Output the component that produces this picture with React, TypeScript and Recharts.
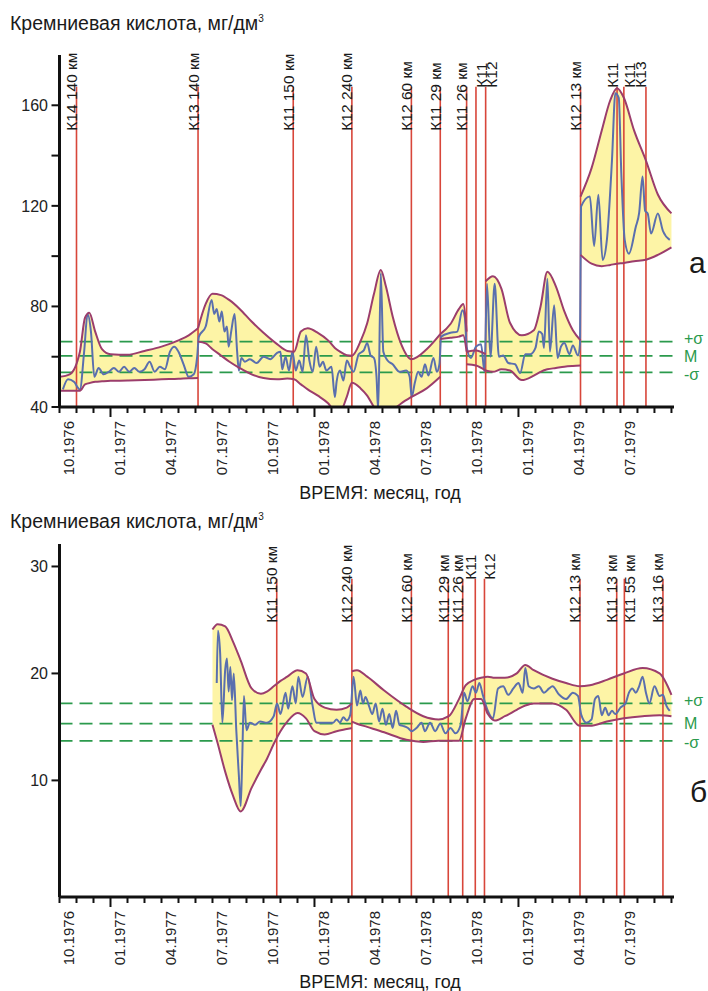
import React from 'react';
import { ComposedChart, Area, Line, XAxis, YAxis, ReferenceLine } from 'recharts';

// months counted from 10.1976; a label every third month
const MONTH_TICKS = Array.from({ length: 37 }, (_, i) => i);
const MONTH_LABELS = [
  '10.1976', '01.1977', '04.1977', '07.1977', '10.1977', '01.1978',
  '04.1978', '07.1978', '10.1978', '01.1979', '04.1979', '07.1979',
];

// ---- panel а ----
const A_Y_TICKS = [40, 60, 80, 100, 120, 140, 160];
const A_Y_LABELS = [40, 80, 120, 160];
const A_STATS = [66, 60.3, 53.8]; // +σ, M, -σ

const A_STATIONS: [number, string][] = [
  [1.0, 'К14 140 км'], [8.15, 'К13 140 км'], [13.75, 'К11 150 км'], [17.2, 'К12 240 км'],
  [20.7, 'К12 60 км'], [22.4, 'К11 29 км'], [23.95, 'К11 26 км'], [24.5, 'К11'],
  [25.07, 'К12'], [30.65, 'К12 13 км'], [32.8, 'К11'], [33.2, 'К11'], [34.5, 'К13'],
];

// envelope pieces: [month, lower, upper]
const A_BAND = [
  [[0, 46.5, 52], [0.6, 46.5, 53], [1.2, 46.5, 62], [1.5, 49, 75.5], [1.75, 49.5, 77.5], [2.1, 50, 70],
   [2.5, 50.2, 63], [3.0, 50.4, 61], [4.0, 50.5, 60.8], [5.0, 50.7, 62.3], [6.0, 51, 64],
   [7.0, 51.2, 66.5], [7.6, 51.4, 68.5], [8.15, 51.5, 71.3]],
  [[8.15, 66, 71.3], [8.6, 65.3, 81], [9.0, 63, 85], [9.5, 60.5, 84.5], [10.0, 58, 82.5],
   [10.6, 55.5, 79], [11.3, 53, 74], [12.0, 51.5, 69.5], [12.8, 51, 65], [13.4, 51.3, 62.3],
   [13.8, 51, 62], [14.2, 49, 70], [14.6, 47, 71.3], [15.2, 44.5, 69.5], [15.8, 41.5, 66.5],
   [16.2, 38.5, 63.5], [16.5, 38.2, 62], [16.9, 44, 60.6], [17.2, 49.6, 60.4], [17.7, 47.5, 66],
   [18.1, 44.5, 73.3], [18.5, 40, 85], [18.9, 37, 94.5], [19.2, 37.5, 88], [19.6, 38.8, 76],
   [20.1, 41.4, 65], [20.7, 44, 59], [21.6, 47.4, 63], [22.4, 52, 69]],
  [[22.4, 67, 69], [23.0, 67.5, 73], [23.5, 68, 79], [23.75, 68.5, 81], [23.95, 62, 70]],
  [[23.95, 57, 62], [24.5, 56.5, 62.5], [25.07, 54.5, 61]],
  [[25.07, 54.5, 90], [25.5, 54, 92], [26.0, 55, 87], [26.5, 54.5, 73.5], [27.2, 50.7, 68.5],
   [27.9, 52.5, 70.5], [28.3, 54, 80], [28.7, 55, 93.8], [29.2, 55.5, 88], [29.7, 56, 78],
   [30.2, 56.3, 70.5], [30.65, 56.5, 66.5]],
  [[30.65, 100.5, 123.7], [31.3, 97, 135], [31.9, 96, 150], [32.4, 96.5, 162], [32.8, 97, 166.8],
   [33.2, 97.3, 163], [33.8, 98, 150], [34.5, 98.6, 138], [35.2, 100.5, 124.5], [36.0, 103.5, 117]],
];

const A_SERIES = [
  [0.2, 47], [0.5, 51], [0.85, 50], [1.2, 47], [1.45, 62], [1.65, 77], [1.85, 70], [2.05, 52],
  [2.3, 55.5], [2.6, 53], [2.9, 54], [3.2, 55.5], [3.5, 54], [3.8, 56], [4.1, 54], [4.4, 55.5],
  [4.7, 54], [5.0, 55], [5.3, 58], [5.6, 54], [5.9, 56], [6.2, 55], [6.5, 62], [6.75, 64],
  [7.0, 62], [7.3, 57], [7.6, 52], [7.9, 53], [8.1, 60], [8.2, 68], [8.6, 72], [8.95, 82.6],
  [9.1, 77], [9.25, 79], [9.4, 74], [9.55, 78], [9.7, 70], [9.85, 72], [9.95, 64], [10.1, 70],
  [10.3, 77], [10.45, 62], [10.55, 54.5], [10.7, 59.5], [10.9, 58], [11.2, 59], [11.6, 57.5],
  [12.0, 60], [12.4, 59], [12.8, 61.5], [13.0, 62], [13.1, 55], [13.3, 60], [13.5, 54.5],
  [13.7, 62], [13.9, 54.5], [14.1, 58.5], [14.3, 54], [14.5, 68.5], [14.7, 58.5], [14.9, 54],
  [15.1, 64], [15.3, 56], [15.5, 58], [15.7, 54.5], [16.0, 56], [16.2, 44], [16.3, 50],
  [16.5, 54.5], [16.7, 50.5], [16.9, 58.5], [17.1, 56], [17.3, 54], [17.6, 61], [17.9, 62.5],
  [18.1, 65.5], [18.3, 60.5], [18.5, 59.5], [18.65, 52], [18.75, 38.5], [18.9, 93.3], [19.05, 62],
  [19.3, 58.5], [19.6, 57], [20.0, 54], [20.4, 54.5], [20.6, 52], [20.72, 44], [20.9, 49.5],
  [21.1, 54], [21.3, 52], [21.5, 57], [21.7, 52.5], [22.0, 59.5], [22.2, 54], [22.35, 57],
  [22.45, 68], [23.0, 69.5], [23.4, 70], [23.7, 78.5], [23.85, 75.5], [23.95, 64], [24.2, 59.5],
  [24.5, 64], [24.8, 65], [25.0, 54], [25.15, 89], [25.35, 60], [25.6, 89], [25.85, 60],
  [26.1, 60.5], [26.4, 57.5], [26.8, 57], [27.1, 53.5], [27.4, 61], [27.7, 61], [28.0, 63.5],
  [28.2, 70], [28.4, 69], [28.5, 63.5], [28.7, 91], [28.85, 62], [29.1, 80.5], [29.3, 59.5],
  [29.5, 64], [29.7, 65.5], [30.0, 61], [30.2, 64.5], [30.5, 60.5], [30.62, 65], [30.68, 119.7],
  [31.2, 123.7], [31.45, 104], [31.7, 124.4], [31.95, 98.5], [32.2, 106.4], [32.5, 138],
  [32.7, 164.8], [32.9, 163], [33.05, 133], [33.25, 106.5], [33.5, 101], [33.9, 111.6],
  [34.1, 117.2], [34.3, 131.7], [34.45, 118], [34.6, 117], [34.8, 109], [35.2, 117], [35.5, 110],
  [35.9, 106.5],
];

// ---- panel б ----
const B_Y_TICKS = [10, 20, 30];
const B_Y_LABELS = [10, 20, 30];
const B_STATS = [17.2, 15.3, 13.7];

const B_STATIONS: [number, string][] = [
  [12.78, 'К11 150 км'], [17.2, 'К12 240 км'], [20.7, 'К12 60 км'], [22.87, 'К11 29 км'],
  [23.72, 'К11 26 км'], [24.46, 'К11'], [25.0, 'К12'], [30.62, 'К12 13 км'],
  [32.78, 'К11 13 км'], [33.23, 'К11 55 км'], [35.5, 'К13 16 км'],
];

const B_BAND = [
  [[9.0, 15.2, 24.1], [9.3, 13.5, 24.6], [9.75, 10.8, 24.4], [10.2, 8.6, 23.0], [10.66, 7.1, 21.2],
   [11.3, 9.3, 18.6], [11.85, 11.0, 18.1], [12.2, 12.0, 18.3], [12.6, 13.4, 18.8], [13.0, 14.6, 19.3],
   [13.4, 15.5, 19.7], [14.0, 16.3, 20.3], [14.5, 15.8, 20.0], [15.0, 14.6, 17.6], [15.6, 14.3, 16.8],
   [16.3, 14.6, 16.6], [16.9, 14.8, 16.8], [17.2, 14.9, 17.2]],
  [[17.2, 15.5, 20.2], [17.5, 15.3, 20.3], [18.1, 15.0, 19.7], [19.1, 14.5, 18.4], [20.4, 13.8, 16.9],
   [21.4, 13.6, 16.0], [22.3, 13.7, 15.7], [22.9, 13.7, 16.0], [23.5, 13.7, 17.6], [23.9, 15.8, 18.9],
   [24.4, 17.6, 19.4], [24.8, 17.6, 19.6], [25.2, 16.2, 19.7], [25.6, 15.6, 19.6], [26.2, 16.0, 19.6],
   [26.9, 16.6, 20.0], [27.4, 17.0, 20.8], [27.9, 17.2, 20.3], [29.0, 17.2, 19.5], [29.8, 16.6, 19.1],
   [30.6, 15.1, 18.8], [31.2, 15.1, 18.9], [32.2, 15.5, 19.4], [33.2, 15.8, 20.0], [34.3, 16.0, 20.5],
   [35.3, 16.1, 20.0], [36.0, 16.0, 18.0]],
];

const B_SERIES = [
  [9.25, 19.1], [9.32, 24.0], [9.45, 21.9], [9.58, 15.4], [9.75, 20.4], [9.85, 21.4], [9.95, 18.3],
  [10.05, 20.6], [10.15, 17.5], [10.25, 20.0], [10.4, 14.7], [10.55, 10.5], [10.66, 7.6],
  [10.75, 12], [10.85, 17.9], [11.0, 14.7], [11.2, 15.4], [11.5, 15.2], [11.8, 15.5], [12.2, 15.4],
  [12.6, 16.0], [12.8, 17.2], [13.0, 16.2], [13.3, 18.2], [13.45, 16.7], [13.7, 18.8], [13.9, 17.2],
  [14.05, 19.7], [14.3, 17.8], [14.6, 19.7], [14.9, 16.9], [15.1, 15.4], [15.6, 15.4], [16.1, 15.4],
  [16.3, 15.7], [16.5, 15.4], [16.7, 15.9], [16.9, 15.6], [17.1, 16.1], [17.3, 19.7], [17.5, 17.0],
  [17.7, 18.4], [17.85, 17.2], [18.0, 17.8], [18.2, 17.0], [18.4, 16.2], [18.6, 17.2], [18.8, 15.5],
  [19.0, 16.7], [19.2, 15.2], [19.4, 16.2], [19.6, 14.9], [19.8, 16.5], [20.0, 15.2], [20.2, 15.1],
  [20.5, 14.9], [20.7, 14.6], [21.0, 14.9], [21.3, 15.4], [21.5, 14.6], [21.8, 15.4], [22.1, 14.6],
  [22.4, 15.3], [22.7, 14.4], [23.0, 14.9], [23.3, 14.4], [23.6, 15.2], [23.8, 18.2], [24.0, 17.4],
  [24.3, 18.8], [24.5, 18.2], [24.7, 19.1], [24.9, 18.0], [25.2, 16.5], [25.5, 15.8], [25.8, 18.6],
  [26.1, 18.8], [26.4, 18.0], [26.7, 18.6], [27.0, 19.1], [27.25, 18.2], [27.4, 20.5], [27.6, 18.8],
  [27.9, 18.6], [28.2, 18.8], [28.5, 18.2], [28.8, 18.6], [29.0, 18.8], [29.4, 18.0], [29.8, 17.6],
  [30.2, 18.2], [30.5, 17.9], [30.7, 16.1], [31.0, 15.4], [31.3, 15.7], [31.5, 17.6], [31.7, 17.9],
  [31.9, 16.1], [32.1, 16.8], [32.3, 16.1], [32.5, 16.5], [32.7, 16.2], [33.0, 16.8], [33.3, 17.2],
  [33.5, 18.2], [33.7, 18.6], [33.9, 18.2], [34.1, 18.8], [34.3, 19.7], [34.5, 18.2], [34.7, 17.2],
  [35.0, 18.8], [35.3, 17.9], [35.5, 18.0], [35.7, 17.0], [35.9, 16.5],
];

const YELLOW = '#fdf4a6';
const EDGE = '#9b3d6c';
const BLUE = '#5a6fae';
const RED = '#d8463a';
const GREEN = '#2b9a4c';
const INK = '#111';
const FONT = '"Liberation Sans", Arial, sans-serif';

const MonthTick = (props: any) => {
  const { x, y, payload } = props;
  const m = payload.value;
  const major = m % 12 === 3;
  const label = m % 3 === 0 ? MONTH_LABELS[m / 3] : null;
  return (
    <g>
      <line x1={x} x2={x} y1={y} y2={y + (major ? 10 : 6)} stroke={INK} strokeWidth={2} />
      {label && (
        <text transform={`translate(${x + 14.5},${y + 14}) rotate(-90)`} textAnchor="end"
          fontSize={15} fill="#222">{label}</text>
      )}
    </g>
  );
};

const makeValueTick = (labels: number[]) => (props: any) => {
  const { x, y, payload } = props;
  return (
    <g>
      <line x1={x - 8} x2={x} y1={y} y2={y} stroke={INK} strokeWidth={2} />
      {labels.includes(payload.value) && (
        <text x={x - 11.5} y={y} dy="0.36em" textAnchor="end" fontSize={16} fill="#222">
          {payload.value}
        </text>
      )}
    </g>
  );
};

// caption sides: left of the line unless it would run into the previous caption
const LABEL_SPAN = 0.7; // caption thickness, in months
const captionSides = (stations: [number, string][]) => {
  let prevRight = -Infinity;
  return stations.map(([m]) => {
    const right = m - LABEL_SPAN < prevRight - 0.12;
    prevRight = right ? m + LABEL_SPAN : m;
    return right;
  });
};

// vertical station line with its rotated caption
const makeStation = (label: string, toRight: boolean) => (props: any) => {
  const { x1, y1, y2 } = props;
  const top = Math.min(y1, y2);
  const bottom = label.includes('км') ? top + 44 : top + 1;
  const tx = toRight ? x1 + 11 : x1 + 0.5;
  return (
    <g>
      <line x1={x1} x2={x1} y1={y1} y2={y2} stroke={RED} strokeWidth={1.6} />
      <text transform={`translate(${tx},${bottom}) rotate(-90)`} fontSize={15.5} fill="#1a1a1a">
        {label}
      </text>
    </g>
  );
};

// the three statistic levels; outer labels nudged apart a little
const STAT_NAMES = ['+σ', 'M', '-σ'];
const STAT_NUDGE = [-3, 0, 2];

type PanelProps = {
  series: number[][];
  band: number[][][];
  stations: [number, string][];
  stats: number[];
  yDomain: [number, number];
  yTicks: number[];
  yLabels: number[];
  stationTop: number;
  top: number;
  height: number;
  marginTop: number;
  axisHeight: number;
};

const Panel = (p: PanelProps) => {
  const pieces = p.band.map((seg) => seg.map(([x, lo, hi]) => ({ x, lo, hi, range: [lo, hi] })));
  const points = p.series.map(([x, y]) => ({ x, y }));
  const sides = captionSides(p.stations);
  return (
    <div style={{ position: 'absolute', left: 0, top: p.top }}>
      <ComposedChart width={708} height={p.height} margin={{ top: p.marginTop, right: 34, bottom: 0, left: 0.5 }}>
        <XAxis type="number" dataKey="x" domain={[0, 36.15]} ticks={MONTH_TICKS} interval={0}
          allowDataOverflow tickLine={false} tickSize={0} tickMargin={0} height={p.axisHeight}
          axisLine={{ stroke: INK, strokeWidth: 3 }} tick={MonthTick} />
        <YAxis type="number" domain={p.yDomain} ticks={p.yTicks} interval={0} allowDataOverflow
          width={59} tickLine={false} tickSize={0} tickMargin={0}
          axisLine={{ stroke: INK, strokeWidth: 3 }} tick={makeValueTick(p.yLabels)} />
        {pieces.map((seg, i) => (
          <Area key={`fill${i}`} data={seg} dataKey="range" type="monotone" stroke="none"
            fill={YELLOW} fillOpacity={1} isAnimationActive={false} />
        ))}
        {p.stats.map((v, i) => (
          <ReferenceLine key={`stat${i}`} y={v} stroke={GREEN} strokeWidth={1.8} strokeDasharray="13 7"
            label={(lp: any) => (
              <text x={lp.viewBox.x + lp.viewBox.width + 10} y={lp.viewBox.y + STAT_NUDGE[i]} dy="0.35em"
                fontSize={16} fill={GREEN}>{STAT_NAMES[i]}</text>
            )} />
        ))}
        {p.stations.map(([m, label], i) => (
          <ReferenceLine key={`st${i}`} segment={[{ x: m, y: p.yDomain[0] }, { x: m, y: p.stationTop }]}
            shape={makeStation(label, sides[i])} />
        ))}
        <Line data={points} dataKey="y" type="monotone" stroke={BLUE} strokeWidth={2} dot={false}
          activeDot={false} isAnimationActive={false} />
        {pieces.map((seg, i) => (
          <Line key={`lo${i}`} data={seg} dataKey="lo" type="monotone" stroke={EDGE} strokeWidth={2}
            dot={false} activeDot={false} isAnimationActive={false} />
        ))}
        {pieces.map((seg, i) => (
          <Line key={`hi${i}`} data={seg} dataKey="hi" type="monotone" stroke={EDGE} strokeWidth={2}
            dot={false} activeDot={false} isAnimationActive={false} />
        ))}
      </ComposedChart>
    </div>
  );
};

const Caption = ({ top, left, size, children, width, align }: any) => (
  <div style={{ position: 'absolute', top, left, width, textAlign: align, fontSize: size,
    lineHeight: `${size}px`, color: '#1a1a1a', whiteSpace: 'nowrap' }}>{children}</div>
);

const Title = ({ top }: { top: number }) => (
  <Caption top={top} left={10} size={19.5}>
    Кремниевая кислота, мг/дм<span style={{ fontSize: 10, position: 'relative', top: -8 }}>3</span>
  </Caption>
);

export default function App() {
  return (
    <div style={{ position: 'absolute', left: 0, top: 0, width: 708, height: 991, background: '#fff',
      fontFamily: FONT, overflow: 'hidden' }}>
      <Panel series={A_SERIES} band={A_BAND} stations={A_STATIONS} stats={A_STATS}
        yDomain={[40, 180]} yTicks={A_Y_TICKS} yLabels={A_Y_LABELS} stationTop={167.4}
        top={0} height={505} marginTop={55} axisHeight={98} />
      <Panel series={B_SERIES} band={B_BAND} stations={B_STATIONS} stats={B_STATS}
        yDomain={[-0.9, 32.1]} yTicks={B_Y_TICKS} yLabels={B_Y_LABELS} stationTop={28.85}
        top={505} height={486} marginTop={39} axisHeight={94} />
      <Title top={13.5} />
      <Title top={512} />
      <Caption top={484} left={280} width={200} align="center" size={18}>ВРЕМЯ: месяц, год</Caption>
      <Caption top={973} left={280} width={200} align="center" size={18}>ВРЕМЯ: месяц, год</Caption>
      <Caption top={247.6} left={689} size={30}>а</Caption>
      <Caption top={777} left={690} size={30}>б</Caption>
    </div>
  );
}
